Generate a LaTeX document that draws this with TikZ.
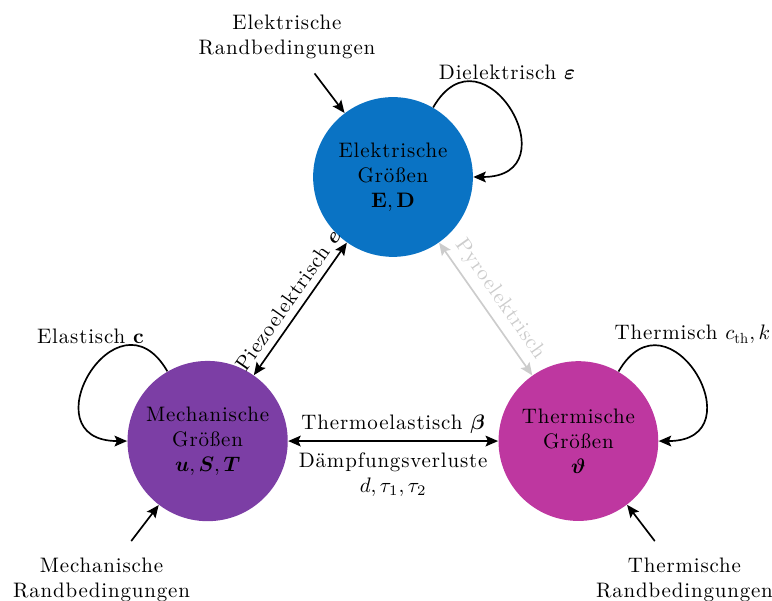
\documentclass[tikz,border=0pt]{standalone}
\usepackage{amsmath}
\usepackage{fontspec}
\setmainfont{lmroman10-regular.otf}[LetterSpace=4,
	BoldFont=lmroman10-bold.otf,
	ItalicFont=lmroman10-italic.otf,
	BoldItalicFont=lmroman10-bolditalic.otf]
\usepackage{tikz}
\usetikzlibrary{arrows.meta,automata,positioning}
\definecolor{elblue}{RGB}{10,115,196}
\definecolor{mechviolet}{RGB}{124,62,165}
\definecolor{thermmagenta}{RGB}{190,55,160}
\tikzset{every loop/.style={min distance=12mm}}
\tikzset{node distance=2.5cm,
	every state/.style={
		draw=none,
		minimum size=2.68cm,
		align=center
	},
	randbed/.style={
		align=center
	},
	looplabel right/.style={pos=0, above, xshift=1.24cm, yshift=3.3mm},
	looplabel left/.style={pos=0, above, xshift=-1.29cm, yshift=3.3mm},
	every edge/.style={
		draw,
		<->,>={Stealth[length=2.1mm,width=1.8mm,inset=0.4mm]},
		thick
	}
}

\begin{document}
\begin{tikzpicture}
		\useasboundingbox (-6.593,-7.113) rectangle (6.358,2.969);
		\node[state, fill=elblue] (el) {Elektrische\\Größen\\$\mathbf{E},\mathbf{D}$};
		\node[state, fill=mechviolet, on grid, below left=4.43cm and 3.11cm of el] (mech) {Mechanische\\Größen\\$\boldsymbol{u},\boldsymbol{S},\boldsymbol{T}$};
		\node[state, fill=thermmagenta, on grid, right=6.22cm of mech] (therm) {Thermische\\Größen\\$\boldsymbol{\vartheta}$};
		% Randbedingungen
		\node[randbed, on grid, above left=2.35cm and 1.78cm of el] (elrb) {Elektrische\\Randbedingungen};
		\node[randbed, on grid, below left=2.33cm and 1.78cm of mech] (mechrb) {Mechanische\\Randbedingungen};
		\node[randbed, on grid, below right=2.33cm and 1.78cm of therm] (thermrb) {Thermische\\Randbedingungen};
		\draw (elrb) edge[->, shorten <=1.5mm] (el)
		(mechrb) edge[->, shorten <=2mm] (mech)
		(thermrb) edge[->, shorten <=2mm] (therm);
		% Kopplungen
		\draw (mech) edge node[sloped, above]{Piezoelektrisch $\boldsymbol{e}$} (el)
		(el) edge[black!20] node[sloped, above]{Pyroelektrisch} (therm)
		(mech) edge node[above]{Thermoelastisch $\boldsymbol{\beta}$}
		node[below=0.6mm, align=center]{Dämpfungsverluste\\$d,\tau_1,\tau_2$} (therm);
		% Materialgesetze
		\draw (el) edge[->, loop, out=60, in=0, looseness=3.2] node[looplabel right]{Dielektrisch $\boldsymbol{\varepsilon}$} (el)
		(mech) edge[->, loop, out=120, in=180, looseness=3.2] node[looplabel left]{Elastisch $\mathbf{c}$} (mech)
		(therm) edge[->, loop, out=60, in=0, looseness=3.2] node[looplabel right]{Thermisch $c_\mathrm{th},k$} (therm);
	\end{tikzpicture}
\end{document}
